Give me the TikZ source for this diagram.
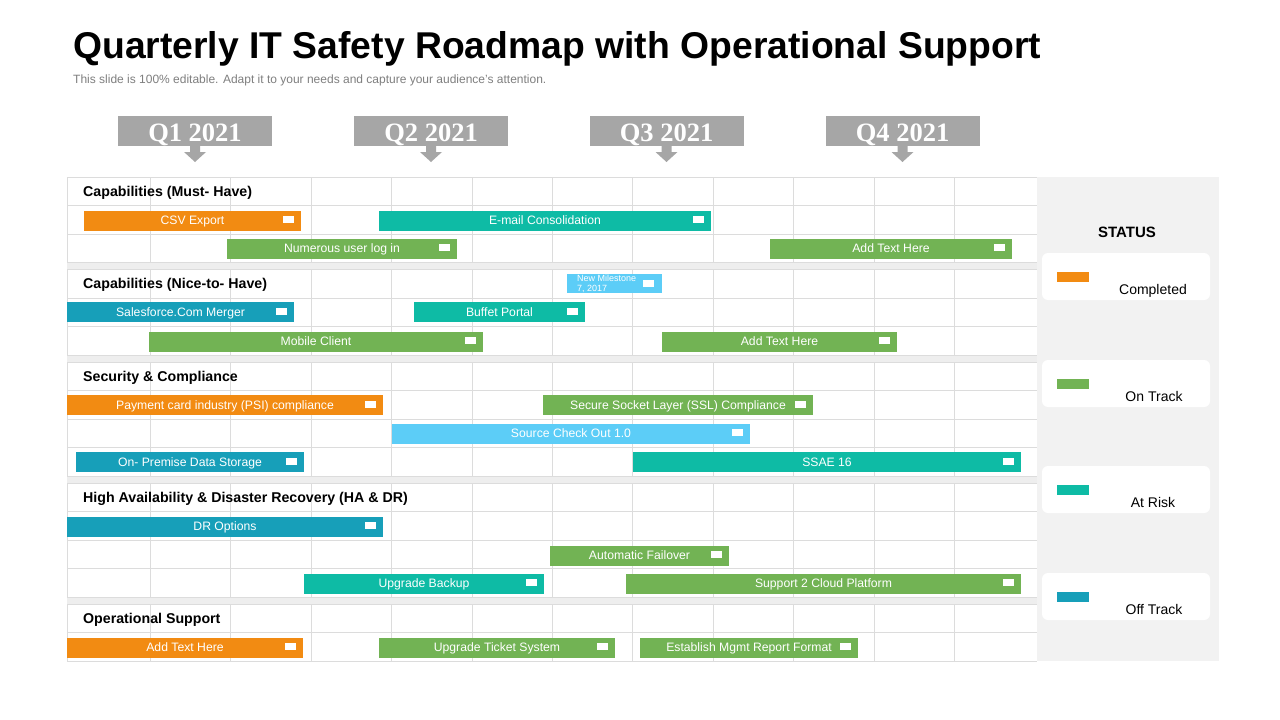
\documentclass[tikz,border=0pt]{standalone}
\usepackage{fontspec}
\setmainfont{Liberation Sans}
\newfontfamily\qfont{Liberation Serif}
\definecolor{corange}{HTML}{F28B12}
\definecolor{cgreen}{HTML}{72B354}
\definecolor{cteal}{HTML}{0EBBA5}
\definecolor{cdblue}{HTML}{179FB9}
\definecolor{clblue}{HTML}{5CCDF7}
\definecolor{qgray}{HTML}{A6A6A6}
\definecolor{gline}{HTML}{DCDCDC}
\definecolor{gband}{HTML}{EEEEEE}
\definecolor{sbg}{HTML}{F2F2F2}
\definecolor{subgray}{HTML}{7F7F7F}
\tikzset{
  barbox/.style={inner sep=0pt,minimum height=20pt,text=white,
    text height=8.7pt,text depth=0pt,
    font=\fontsize{12.2}{13}\selectfont},
  gridline/.style={draw=gline,line width=0.8pt},
  qbox/.style={fill=qgray,inner sep=0pt,minimum width=154pt,minimum height=30pt,
    text height=21.5pt,text depth=0pt,
    text=white,font=\qfont\bfseries\fontsize{26.5}{28}\selectfont},
  sechead/.style={anchor=west,inner sep=0pt,text height=10pt,text depth=0pt,
    font=\bfseries\fontsize{14.2}{15}\selectfont},
  card/.style={fill=white,rounded corners=6pt},
  cardlabel/.style={inner sep=0pt,text height=10pt,text depth=0pt,
    font=\fontsize{14}{15}\selectfont},
}
\newcommand\gbar[6]{%
  \node[barbox,fill=#5,minimum width={(#3-#2)*1pt}] (#1) at ({(#2+#3)/2},{#4+0.5}) {#6};
  \fill[white] ({#3-18},{#4-4}) rectangle ({#3-7},{#4+3});
}
\newcommand\qhead[3]{%
  \node[qbox] (#1) at (#2,131) {#3};
  \fill[qgray] ({#2-5},146) -- ({#2+5},146) -- ({#2+5},152) -- ({#2+11},152)
     -- (#2,162) -- ({#2-11},152) -- ({#2-5},152) -- cycle;
}
\begin{document}
\begin{tikzpicture}[x=1pt,y=-1pt]
\useasboundingbox (0,0) rectangle (1280,720);
\fill[white] (0,0) rectangle (1280,720);

% title
\node[anchor=base west,inner sep=0pt,font=\bfseries\fontsize{37.3}{39}\selectfont] (title) at (73,58)
  {Quarterly IT Safety Roadmap with Operational Support};
\node[anchor=base west,inner sep=0pt,text=subgray,font=\fontsize{12}{13}\selectfont] (subtitle) at (73,83)
  {This slide is 100\% editable. Adapt it to your needs and capture your audience's attention.};

% quarters
\qhead{q1}{195}{Q1 2021}
\qhead{q2}{431}{Q2 2021}
\qhead{q3}{666.5}{Q3 2021}
\qhead{q4}{902.5}{Q4 2021}

% grid
\fill[gband] (67,177) rectangle (1037,661);
\foreach \t/\n in {177/3,269.5/3,362/4,483/4,604/2} {
  \fill[white] (67,\t) rectangle (1037,{\t+\n*28.5});
  \foreach \k in {0,...,\n}
    \draw[gridline] (67,{\t+\k*28.5}) -- (1037,{\t+\k*28.5});
  \foreach \x in {67,150.4,230.8,311.2,391.6,472,552.4,632.8,713.2,793.6,874,954.4,1037}
    \draw[gridline] (\x,\t) -- (\x,{\t+\n*28.5});
}

% section headers
\node[sechead] (s1) at (83,191) {Capabilities (Must- Have)};
\node[sechead] (s2) at (83,283.5) {Capabilities (Nice-to- Have)};
\node[sechead] (s3) at (83,376.5) {Security \& Compliance};
\node[sechead] (s4) at (83,497.5) {High Availability \& Disaster Recovery (HA \& DR)};
\node[sechead] (s5) at (83,618.5) {Operational Support};

% bars
\gbar{b1}{84}{301}{220}{corange}{CSV Export}
\gbar{b2}{379}{711}{220}{cteal}{E-mail Consolidation}
\gbar{b3}{227}{457}{248}{cgreen}{Numerous user log in}
\gbar{b4}{770}{1012}{248}{cgreen}{Add Text Here}

\node[inner sep=0pt,fill=clblue,minimum width=95pt,minimum height=19pt] (ms) at (614.5,283.5) {};
\node[anchor=north west,inner sep=0pt,align=left,text=white,font=\fontsize{9}{10}\selectfont] (mstext) at (577,274.5) {New Milestone\\7, 2017};
\fill[white] (643,280) rectangle (654,287);

\gbar{b5}{67}{294}{311.5}{cdblue}{Salesforce.Com Merger}
\gbar{b6}{414}{585}{311.5}{cteal}{Buffet Portal}
\gbar{b7}{149}{483}{341}{cgreen}{Mobile Client}
\gbar{b8}{662}{897}{341}{cgreen}{Add Text Here}

\gbar{b9}{67}{383}{404.5}{corange}{Payment card industry (PSI) compliance}
\gbar{b10}{543}{813}{404.5}{cgreen}{Secure Socket Layer (SSL) Compliance}
\gbar{b11}{392}{750}{433}{clblue}{Source Check Out 1.0}
\gbar{b12}{76}{304}{461.5}{cdblue}{On- Premise Data Storage}
\gbar{b13}{633}{1021}{461.5}{cteal}{SSAE 16}

\gbar{b14}{67}{383}{526}{cdblue}{DR Options}
\gbar{b15}{550}{729}{555}{cgreen}{Automatic Failover}
\gbar{b16}{304}{544}{583}{cteal}{Upgrade Backup}
\gbar{b17}{626}{1021}{583}{cgreen}{Support 2 Cloud Platform}

\gbar{b18}{67}{303}{647}{corange}{Add Text Here}
\gbar{b19}{379}{615}{647}{cgreen}{Upgrade Ticket System}
\gbar{b20}{640}{858}{647}{cgreen}{Establish Mgmt Report Format}

% status panel
\fill[sbg] (1037,177) rectangle (1219,661);
\node[inner sep=0pt,text height=11pt,text depth=0pt,font=\bfseries\fontsize{15}{16}\selectfont] (status) at (1127,232) {STATUS};
\foreach \nm/\y/\c/\lab/\lx in {c1/253/corange/Completed/1153,c2/360/cgreen/On Track/1154,c3/466/cteal/At Risk/1153,c4/573/cdblue/Off Track/1154} {
  \fill[card] (1042,\y) rectangle (1210,{\y+47});
  \fill[\c] (1057,{\y+19}) rectangle (1089,{\y+29});
  \node[cardlabel] (\nm) at (\lx,{\y+36}) {\lab};
}
\end{tikzpicture}
\end{document}
